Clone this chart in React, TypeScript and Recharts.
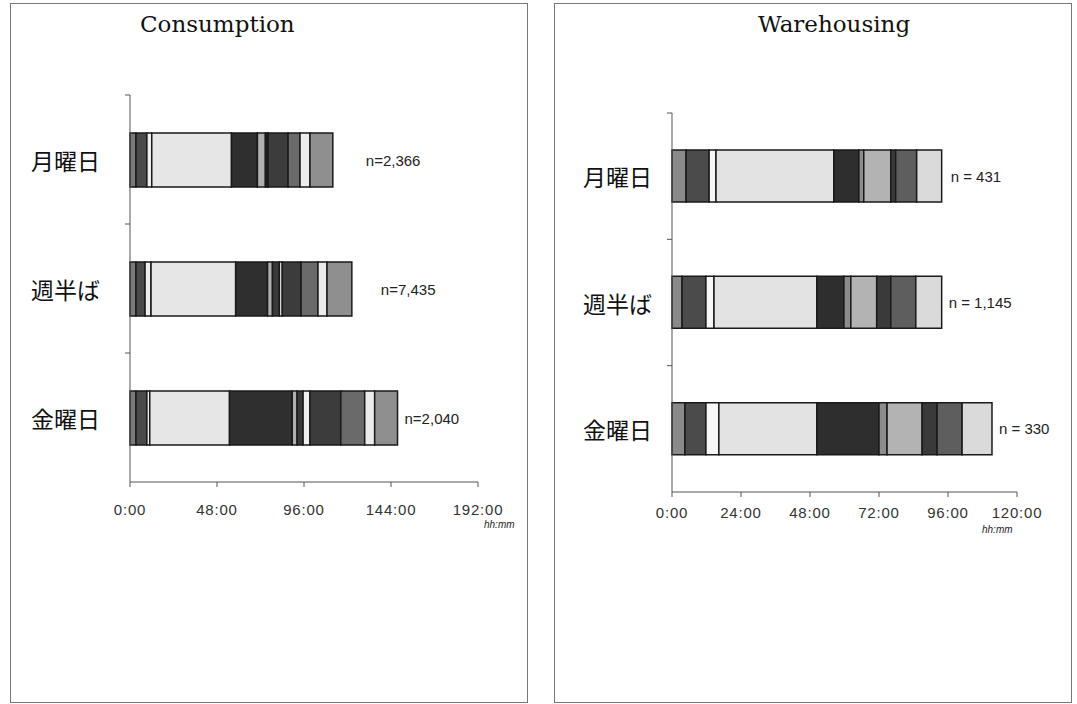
import React from 'react';
import { BarChart, Bar, XAxis, YAxis, LabelList } from 'recharts';

const days = ['月曜日', '週半ば', '金曜日'];

// Consumption: hours spent in each stage (12 stacked blocks)
const consMonday = [3.3, 6, 2.7, 44, 14.3, 4.4, 1, 0.5, 11, 6.6, 5.5, 12.6];
const consMidweek = [3.3, 5, 3.3, 46.7, 17.6, 2.7, 3.8, 1.6, 10.4, 9.3, 5, 13.7];
const consFriday = [3.3, 6, 1.6, 44, 34.6, 2.7, 3.3, 3.8, 17, 13.2, 5.5, 12.6];
const consN = ['n=2,366', 'n=7,435', 'n=2,040'];
const consTicks = [0, 48, 96, 144, 192];

// Warehousing: 10 stacked blocks
const whMonday = [4.9, 8, 2.4, 41, 8.7, 1.7, 9.4, 1.7, 7.3, 8.7];
const whMidweek = [3.5, 8.3, 2.8, 35.8, 9.4, 2.4, 9.0, 4.9, 8.7, 9.0];
const whFriday = [4.5, 7.3, 4.5, 34.1, 21.6, 2.8, 12.2, 5.2, 8.7, 10.4];
const whN = ['n = 431', 'n = 1,145', 'n = 330'];
const whTicks = [0, 24, 48, 72, 96, 120];

const CONS_COLORS = [
  '#7a7a7a', '#4a4a4a', '#eeeeee', '#e6e6e6', '#2f2f2f', '#b0b0b0',
  '#3a3a3a', '#efefef', '#3c3c3c', '#6a6a6a', '#ebebeb', '#8f8f8f',
];
const WH_COLORS = [
  '#8a8a8a', '#4b4b4b', '#f7f7f7', '#e3e3e3', '#2e2e2e',
  '#8c8c8c', '#b3b3b3', '#3a3a3a', '#5e5e5e', '#dadada',
];

function buildRows(series: number[][], labels: string[]) {
  return days.map((day, i) => {
    const row: Record<string, string | number> = { day, n: labels[i] };
    series[i].forEach((v, j) => {
      row[`s${j}`] = v;
    });
    return row;
  });
}

interface PanelProps {
  rows: Record<string, string | number>[];
  colors: string[];
  ticks: number[];
  labels: string[];
  labelGap: number[];
  width: number;
  height: number;
  margin: { top: number; right: number; bottom: number; left: number };
  yAxisWidth: number;
  labelOffset: number;
  tickMargin: number;
  barSize: number;
}

function Panel(p: PanelProps) {
  const plotHeight = p.height - p.margin.top - p.margin.bottom - 40;
  const band = plotHeight / days.length;
  const last = p.colors.length - 1;

  const renderDay = (props: any) => {
    const { x, y, payload } = props;
    return (
      <g>
        <text
          x={x - p.labelOffset}
          y={y}
          textAnchor="end"
          dominantBaseline="central"
          fontSize={23}
          fill="#111"
          fontFamily="'Noto Sans CJK JP', sans-serif"
        >
          {payload.value}
        </text>
        <line x1={x - 5} x2={x} y1={y - band / 2} y2={y - band / 2} stroke="#555" />
      </g>
    );
  };

  const renderN = (props: any) => {
    const { x, y, width, height, value } = props;
    const gap = p.labelGap[p.labels.indexOf(String(value))] ?? 8;
    return (
      <text
        x={Number(x) + Number(width) + gap}
        y={Number(y) + Number(height) / 2}
        dominantBaseline="central"
        fontSize={15}
        fill="#222"
        fontFamily="'Liberation Sans', Arial, sans-serif"
      >
        {value}
      </text>
    );
  };

  return (
    <BarChart
      width={p.width}
      height={p.height}
      data={p.rows}
      layout="vertical"
      margin={p.margin}
      barSize={p.barSize}
    >
      <XAxis
        type="number"
        domain={[0, p.ticks[p.ticks.length - 1]]}
        ticks={p.ticks}
        tickFormatter={(v) => `${v}:00`}
        interval={0}
        height={40}
        stroke="#555"
        tickSize={5}
        tickMargin={p.tickMargin}
        tick={{ fontSize: 15, fill: '#333', fontFamily: "'Liberation Sans', Arial, sans-serif", letterSpacing: 0.8 }}
      />
      <YAxis
        type="category"
        dataKey="day"
        width={p.yAxisWidth}
        stroke="#555"
        tickLine={false}
        tickSize={0}
        tickMargin={0}
        tick={renderDay}
      />
      {p.colors.map((c, j) => (
        <Bar
          key={j}
          dataKey={`s${j}`}
          stackId="t"
          fill={c}
          stroke="#1a1a1a"
          strokeWidth={1.5}
          isAnimationActive={false}
        >
          {j === last && <LabelList dataKey="n" content={renderN} />}
        </Bar>
      ))}
    </BarChart>
  );
}

const consRows = buildRows([consMonday, consMidweek, consFriday], consN);
const whRows = buildRows([whMonday, whMidweek, whFriday], whN);

const frame: React.CSSProperties = {
  position: 'absolute',
  top: 3,
  width: 516,
  height: 698,
  border: '1px solid #777',
  boxSizing: 'content-box',
};

const title: React.CSSProperties = {
  position: 'absolute',
  top: 10,
  fontSize: 23,
  lineHeight: '28px',
  fontFamily: "'DejaVu Serif', 'Liberation Serif', serif",
  color: '#111',
};

const unit: React.CSSProperties = {
  position: 'absolute',
  fontSize: 10,
  lineHeight: '12px',
  fontStyle: 'italic',
  fontFamily: "'Liberation Sans', Arial, sans-serif",
  color: '#222',
};

export default function App() {
  return (
    <div style={{ position: 'absolute', left: 0, top: 0, width: 1077, height: 704, overflow: 'hidden', background: '#fff' }}>
      <div style={{ ...frame, left: 10 }} />
      <div style={{ ...frame, left: 554 }} />
      <div style={{ ...title, left: 140 }}>Consumption</div>
      <div style={{ ...title, left: 758 }}>Warehousing</div>

      <div style={{ position: 'absolute', left: 0, top: 0 }}>
        <Panel
          rows={consRows}
          colors={CONS_COLORS}
          ticks={consTicks}
          labels={consN}
          labelGap={[33, 29, 7]}
          width={527}
          height={560}
          margin={{ top: 95, right: 49, bottom: 38, left: 20 }}
          yAxisWidth={110}
          labelOffset={30}
          tickMargin={17}
          barSize={54}
        />
      </div>
      <div style={{ position: 'absolute', left: 554, top: 0 }}>
        <Panel
          rows={whRows}
          colors={WH_COLORS}
          ticks={whTicks}
          labels={whN}
          labelGap={[9, 7, 7]}
          width={517}
          height={580}
          margin={{ top: 113, right: 54, bottom: 48, left: 18 }}
          yAxisWidth={100}
          labelOffset={20}
          tickMargin={10}
          barSize={52}
        />
      </div>

      <div style={{ ...unit, left: 484, top: 519 }}>hh:mm</div>
      <div style={{ ...unit, left: 982, top: 524 }}>hh:mm</div>
    </div>
  );
}
